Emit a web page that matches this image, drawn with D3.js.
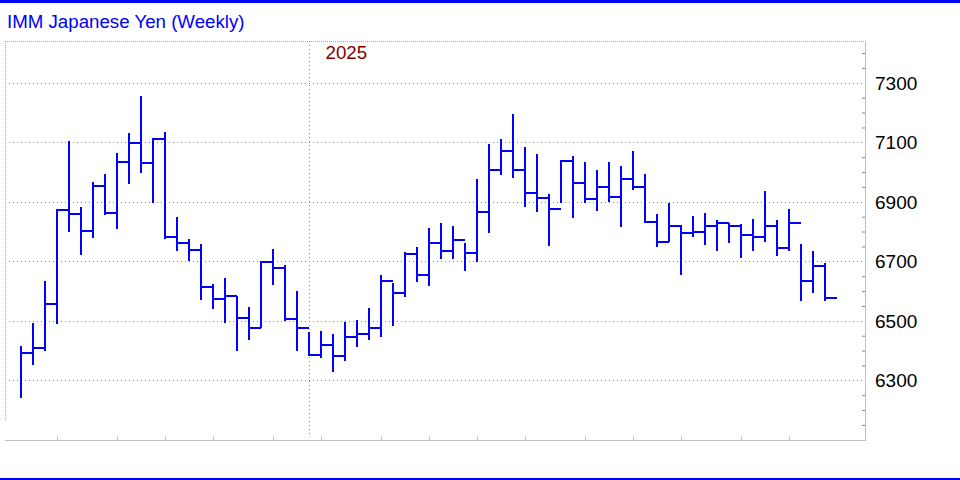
<!DOCTYPE html>
<html>
<head>
<meta charset="utf-8">
<script src="https://cdn.jsdelivr.net/npm/d3@7"></script>
<style>
  body { margin: 0; background: #fff; }
  svg { display: block; font-family: Arial, "Liberation Sans", sans-serif; }
</style>
</head>
<body>
<div class="chart"></div>
<script>
// weekly bars (Friday dates)
const dates = [
  '2024-07-12', '2024-07-19', '2024-07-26',
  '2024-08-02', '2024-08-09', '2024-08-16', '2024-08-23', '2024-08-30',
  '2024-09-06', '2024-09-13', '2024-09-20', '2024-09-27',
  '2024-10-04', '2024-10-11', '2024-10-18', '2024-10-25',
  '2024-11-01', '2024-11-08', '2024-11-15', '2024-11-22', '2024-11-29',
  '2024-12-06', '2024-12-13', '2024-12-20', '2024-12-27',
  '2025-01-03', '2025-01-10', '2025-01-17', '2025-01-24', '2025-01-31',
  '2025-02-07', '2025-02-14', '2025-02-21', '2025-02-28',
  '2025-03-07', '2025-03-14', '2025-03-21', '2025-03-28',
  '2025-04-04', '2025-04-11', '2025-04-18', '2025-04-25',
  '2025-05-02', '2025-05-09', '2025-05-16', '2025-05-23', '2025-05-30',
  '2025-06-06', '2025-06-13', '2025-06-20', '2025-06-27',
  '2025-07-04', '2025-07-11', '2025-07-18', '2025-07-25',
  '2025-08-01', '2025-08-08', '2025-08-15', '2025-08-22', '2025-08-29',
  '2025-09-05', '2025-09-12', '2025-09-19', '2025-09-26',
  '2025-10-03', '2025-10-10', '2025-10-17', '2025-10-24'
]
const highs = [
  6416, 6493, 6633, 6874, 7104, 6883, 6967, 6994, 7064, 7131, 7256, 7115,
  7135, 6848, 6774, 6757, 6623, 6644, 6583, 6547, 6702, 6742, 6687, 6599,
  6463, 6466, 6454, 6496, 6503, 6543, 6653, 6627, 6730, 6747, 6812, 6829,
  6819, 6762, 6976, 7094, 7111, 7195, 7084, 7061, 6926, 7038, 7054, 7034,
  7007, 7034, 7020, 7071, 6994, 6859, 6896, 6822, 6852, 6863, 6839, 6830,
  6826, 6842, 6936, 6839, 6876, 6758, 6736, 6695
]
const lows = [
  6239, 6350, 6397, 6488, 6800, 6721, 6779, 6854, 6807, 6961, 6998, 6895,
  6774, 6736, 6702, 6571, 6538, 6491, 6400, 6434, 6476, 6622, 6501, 6397,
  6385, 6376, 6329, 6366, 6413, 6434, 6444, 6481, 6581, 6632, 6618, 6707,
  6707, 6669, 6699, 6796, 6991, 6981, 6884, 6867, 6753, 6895, 6847, 6897,
  6870, 6901, 6816, 6941, 6828, 6749, 6766, 6655, 6783, 6756, 6736, 6760,
  6712, 6733, 6766, 6719, 6736, 6565, 6592, 6565
]
const closes = [
  6393, 6407, 6557, 6874, 6860, 6803, 6954, 6864, 7034, 7098, 7032, 7110,
  6782, 6763, 6739, 6612, 6574, 6583, 6511, 6476, 6699, 6676, 6506, 6476,
  6385, 6417, 6382, 6446, 6457, 6477, 6635, 6595, 6725, 6655, 6763, 6736,
  6770, 6729, 6867, 7007, 7072, 7007, 6931, 6913, 6877, 7038, 6964, 6911,
  6951, 6917, 6975, 6951, 6833, 6766, 6817, 6796, 6800, 6817, 6830, 6817,
  6790, 6783, 6820, 6746, 6830, 6635, 6684, 6575
]
const yLabels = [6300, 6500, 6700, 6900, 7100, 7300]
const title = 'IMM Japanese Yen (Weekly)'

const width = 960
const height = 480
const plot = { left: 5, top: 41, right: 865, bottom: 440 }

const parse = d3.timeParse('%Y-%m-%d')
const bars = dates.map((d, i) => ({ date: parse(d), key: d, high: highs[i], low: lows[i], close: closes[i] }))

const svg = d3.select('.chart').append('svg').attr('width', width).attr('height', height)

// blue frame lines
svg.append('rect').attr('x', 0).attr('y', 0).attr('width', width).attr('height', 3).attr('fill', '#0000ff')
svg.append('rect').attr('x', 0).attr('y', 478).attr('width', width).attr('height', 2).attr('fill', '#0000ff')

svg.append('text').attr('x', 7).attr('y', 27.5).attr('fill', '#0000ff').style('font-size', '18.7px').text(title)

const xScale = d3.scalePoint().domain(dates).range([21, 21 + 12 * (dates.length - 1)])
const step = xScale.step()
const yScale = d3.scaleLinear().domain([6300, 7300]).range([380.3, 82.8])

// plot border (dotted top + left)
svg.append('line').attr('x1', plot.left).attr('x2', plot.right).attr('y1', plot.top + 0.5).attr('y2', plot.top + 0.5)
  .attr('stroke', '#aaa').attr('stroke-dasharray', '1,1')
svg.append('line').attr('x1', plot.left + 0.5).attr('x2', plot.left + 0.5).attr('y1', plot.top).attr('y2', 420)
  .attr('stroke', '#aaa').attr('stroke-dasharray', '1,1')

// horizontal grid
svg.append('g').selectAll('line').data(yLabels).join('line')
  .attr('x1', 9).attr('x2', plot.right - 3)
  .attr('y1', d => Math.round(yScale(d)) + 0.5).attr('y2', d => Math.round(yScale(d)) + 0.5)
  .attr('stroke', '#888').attr('stroke-dasharray', '1,3')

// year separator
const yearIdx = bars.findIndex((b, i) => i > 0 && b.date.getFullYear() !== bars[i - 1].date.getFullYear())
const yearX = Math.round(xScale(dates[yearIdx - 1])) + 0.5
svg.append('line').attr('x1', yearX).attr('x2', yearX).attr('y1', plot.top).attr('y2', 437)
  .attr('stroke', '#888').attr('stroke-dasharray', '1,3')
svg.append('text').attr('x', yearX + 16).attr('y', 59).attr('fill', '#800000').style('font-size', '18.7px')
  .text(bars[yearIdx].date.getFullYear())

// x axis: month ticks pointing up
const monthStarts = dates.filter((d, i) => i > 0 && bars[i].date.getMonth() !== bars[i - 1].date.getMonth())
svg.append('line').attr('x1', plot.left).attr('x2', plot.right).attr('y1', plot.bottom + 0.5).attr('y2', plot.bottom + 0.5)
  .attr('stroke', '#c0c0c0')
const xAxis = d3.axisTop(xScale).tickValues(monthStarts).tickSize(4).tickSizeOuter(0).tickFormat('')
const gx = svg.append('g').attr('transform', `translate(0, ${plot.bottom + 0.5})`).call(xAxis)
gx.select('.domain').remove()
gx.selectAll('.tick line').attr('stroke', '#c0c0c0')

// y axis on the right
svg.append('line').attr('x1', plot.right + 0.5).attr('x2', plot.right + 0.5).attr('y1', plot.top).attr('y2', plot.bottom + 1)
  .attr('stroke', '#c0c0c0')
const minorTicks = d3.range(6150, 7450, 50).filter(v => !yLabels.includes(v))
const gMinor = svg.append('g').attr('transform', `translate(${plot.right}, 0)`)
  .call(d3.axisLeft(yScale).tickValues(minorTicks).tickSize(3).tickFormat(''))
gMinor.select('.domain').remove()
gMinor.selectAll('.tick line').attr('stroke', '#888')

const gy = svg.append('g').attr('transform', `translate(${plot.right}, 0)`)
  .call(d3.axisRight(yScale).tickValues(yLabels).tickSize(0).tickPadding(10).tickFormat(d3.format('d')))
gy.select('.domain').remove()
gy.selectAll('.tick text').attr('fill', '#000').attr('dy', '0.35em').style('font-size', '19px')
  .style('font-family', 'Arial, "Liberation Sans", sans-serif')

// bars: high-low stroke + close tick to the right
const g = svg.append('g').attr('stroke', '#0000ff').attr('stroke-width', 2).attr('shape-rendering', 'crispEdges')
g.selectAll('.hl').data(bars).join('line').attr('class', 'hl')
  .attr('x1', d => xScale(d.key)).attr('x2', d => xScale(d.key))
  .attr('y1', d => yScale(d.high)).attr('y2', d => yScale(d.low))
g.selectAll('.cl').data(bars).join('line').attr('class', 'cl')
  .attr('x1', d => xScale(d.key) - 1).attr('x2', d => xScale(d.key) + step)
  .attr('y1', d => yScale(d.close)).attr('y2', d => yScale(d.close))
</script>
</body>
</html>
